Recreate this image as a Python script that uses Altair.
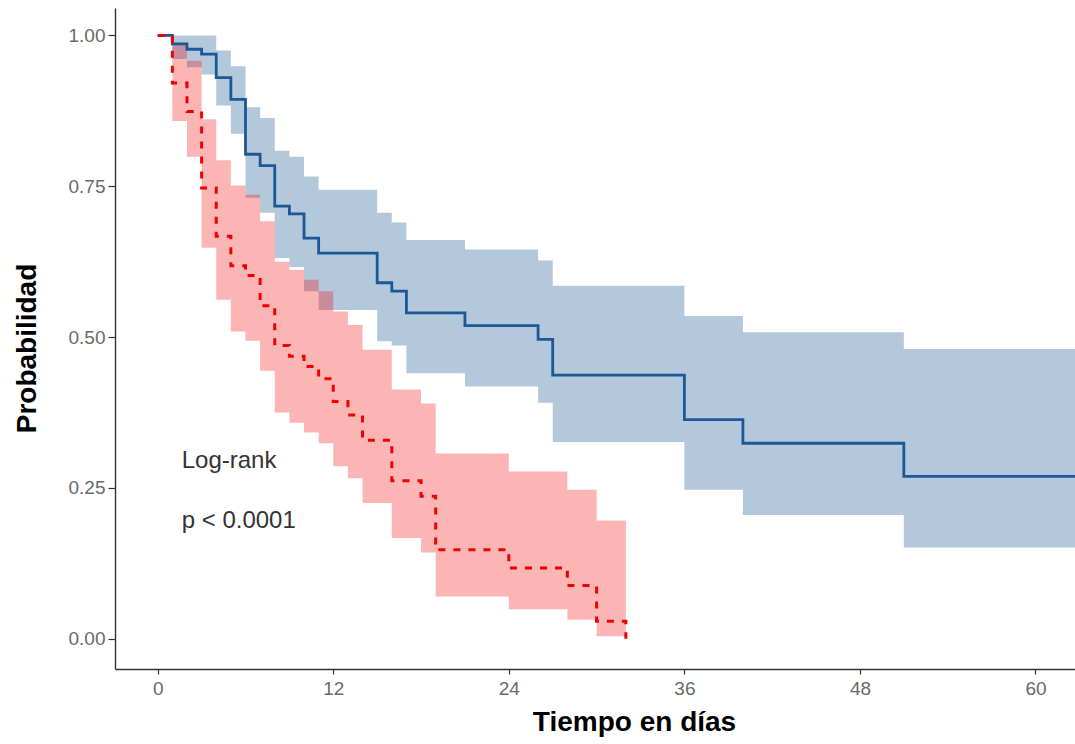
import altair as alt
import pandas as pd

# ---- data ----
blue_t = [0, 1, 2, 3, 4, 5, 6, 7, 8, 9, 10, 11, 15, 16, 17, 21, 26, 27, 36, 40, 51, 63]
blue_s = [1.0, 0.986, 0.977, 0.969, 0.930, 0.894, 0.803, 0.784, 0.717, 0.704, 0.664,
          0.639, 0.590, 0.576, 0.540, 0.519, 0.496, 0.437, 0.363, 0.324, 0.269, 0.269]
blue_lo = [1.0, 0.961, 0.947, 0.935, 0.884, 0.837, 0.731, 0.706, 0.631, 0.616, 0.576,
           0.545, 0.493, 0.486, 0.440, 0.418, 0.391, 0.326, 0.247, 0.205, 0.151, 0.151]
blue_hi = [1.0, 1.0, 1.0, 1.0, 0.975, 0.949, 0.881, 0.863, 0.809, 0.799, 0.766,
           0.744, 0.706, 0.690, 0.661, 0.645, 0.627, 0.585, 0.535, 0.508, 0.480, 0.480]

red_t = [0, 1, 2, 3, 4, 5, 6, 7, 8, 9, 10, 11, 12, 13, 14, 16, 18, 19, 24, 28, 30, 32]
red_s = [1.0, 0.921, 0.874, 0.747, 0.667, 0.618, 0.602, 0.552, 0.486, 0.468, 0.451,
         0.431, 0.393, 0.371, 0.329, 0.262, 0.236, 0.1475, 0.117, 0.088, 0.029, 0.0]
red_lo = [1.0, 0.858, 0.799, 0.648, 0.562, 0.509, 0.494, 0.444, 0.375, 0.358, 0.342,
          0.324, 0.286, 0.266, 0.225, 0.167, 0.143, 0.070, 0.049, 0.0315, 0.004, 0.004]
red_hi = [1.0, 0.985, 0.958, 0.861, 0.793, 0.751, 0.736, 0.692, 0.625, 0.611, 0.595,
          0.576, 0.5425, 0.520, 0.479, 0.413, 0.390, 0.307, 0.277, 0.247, 0.196, 0.196]

x_ticks = [0, 12, 24, 36, 48, 60]
y_ticks = [0.0, 0.25, 0.5, 0.75, 1.0]
annot_text = ["Log-rank", "p < 0.0001"]
annot_t = [1.64, 1.64]
annot_s = [0.2834, 0.184]

blue = pd.DataFrame({"t": blue_t, "S": blue_s, "lo": blue_lo, "hi": blue_hi})
red = pd.DataFrame({"t": red_t, "S": red_s, "lo": red_lo, "hi": red_hi})
annot = pd.DataFrame({"t": annot_t, "S": annot_s, "label": annot_text})

FONT = "Liberation Sans"
xs = alt.Scale(domain=[-2.92, 62.7], nice=False, zero=False)
ys = alt.Scale(domain=[-0.0502, 1.0454], nice=False, zero=False)

x_axis = alt.Axis(values=x_ticks, format="d", grid=False, labelFont=FONT, labelFontSize=19,
                  labelColor="#6a6a6a", labelPadding=5, tickColor="#333333", tickSize=5,
                  tickWidth=1.2, domainColor="#333333", domainWidth=1.4,
                  title="Tiempo en días", titleFont=FONT, titleFontSize=28,
                  titleFontWeight="bold", titleColor="#000000", titleX=519, titleY=61,
                  titleAlign="center", titleBaseline="alphabetic")
y_axis = alt.Axis(values=y_ticks, format=".2f", grid=False, labelFont=FONT, labelFontSize=19,
                  labelColor="#6a6a6a", labelPadding=3, tickColor="#333333", tickSize=7,
                  tickWidth=1.2, domainColor="#333333", domainWidth=1.4,
                  title="Probabilidad", titleFont=FONT, titleFontSize=28,
                  titleFontWeight="bold", titleColor="#000000", titleAngle=270,
                  titleX=-80, titleY=340, titleAlign="center", titleBaseline="alphabetic")

X = alt.X("t:Q", scale=xs, axis=x_axis)


def Y(field):
    return alt.Y(field, type="quantitative", scale=ys, axis=y_axis)


BLUE = "#1B5896"
RED = "#F00000"

blue_band = alt.Chart(blue).mark_area(interpolate="step-after", color=BLUE, opacity=0.33,
                                      clip=True).encode(x=X, y=Y("lo"), y2="hi")
red_band = alt.Chart(red).mark_area(interpolate="step-after", color="#F40000", opacity=0.29,
                                    clip=True).encode(x=X, y=Y("lo"), y2="hi")
blue_line = alt.Chart(blue).mark_line(interpolate="step-after", color=BLUE, strokeWidth=2.8,
                                      clip=True).encode(x=X, y=Y("S"))
red_line = alt.Chart(red).mark_line(interpolate="step-after", color=RED, strokeWidth=3,
                                    strokeDash=[7, 8], clip=True).encode(x=X, y=Y("S"))
text = alt.Chart(annot).mark_text(align="left", baseline="alphabetic", font=FONT, fontSize=24,
                                  color="#333333").encode(x=X, y=Y("S"), text="label:N")

chart = alt.layer(blue_band, red_band, blue_line, red_line, text).properties(
    width=960, height=661,
    padding={"left": 115, "top": 8, "right": 0, "bottom": 75},
    autosize="none",
    background="white",
).configure_view(stroke=None)

chart.save("out.html", embed_options={"renderer": "svg", "actions": False})
